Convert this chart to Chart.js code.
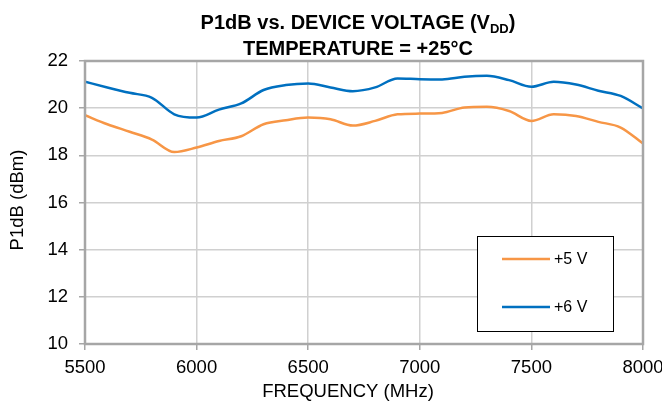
<!DOCTYPE html>
<html>
<head>
<meta charset="utf-8">
<script src="https://cdn.jsdelivr.net/npm/chart.js@4/dist/chart.umd.min.js"></script>
<style>
  html, body { margin: 0; padding: 0; background: #fff; }
  #wrap { width: 662px; height: 403px; }
</style>
</head>
<body>
<div id="wrap"><canvas id="c" width="662" height="403"></canvas></div>
<script>
// frequency points (MHz)
const freqs = [5500, 5600, 5700, 5800, 5900, 6000, 6100, 6200, 6300, 6400, 6500, 6600, 6700,
    6800, 6900, 7000, 7100, 7200, 7300, 7400, 7500, 7600, 7700, 7800, 7900, 8000];
// P1dB at +5 V (dBm)
const p5v = [19.70, 19.32, 19.00, 18.67, 18.14, 18.33, 18.61, 18.81, 19.32, 19.49, 19.60, 19.53, 19.26,
    19.46, 19.74, 19.77, 19.80, 20.03, 20.06, 19.88, 19.46, 19.74, 19.67, 19.42, 19.18, 18.50];
// P1dB at +6 V (dBm)
const p6v = [21.12, 20.88, 20.65, 20.44, 19.74, 19.60, 19.94, 20.20, 20.77, 20.98, 21.05, 20.88, 20.72,
    20.88, 21.26, 21.23, 21.22, 21.33, 21.37, 21.19, 20.91, 21.12, 21.00, 20.74, 20.52, 19.99];
const seriesLabels = ['+5 V', '+6 V'];
const xTicks = [5500, 6000, 6500, 7000, 7500, 8000];
const yTicks = [10, 12, 14, 16, 18, 20, 22];

const FONT = 'Liberation Sans, Arial, sans-serif';

function toPoints(vals) {
    return freqs.map((f, i) => ({ x: f, y: vals[i] }));
}

// title with subscript, axis titles, frame and boxed legend
const decor = {
    id: 'decor',
    afterDraw(chart) {
        const ctx = chart.ctx;
        const a = chart.chartArea;
        ctx.save();
        // frame
        ctx.strokeStyle = '#a6a6a6';
        ctx.lineWidth = 2.5;
        ctx.strokeRect(a.left, a.top, a.right - a.left, a.bottom - a.top);

        // title
        ctx.fillStyle = '#000';
        ctx.textBaseline = 'alphabetic';
        const main = 'P1dB vs. DEVICE VOLTAGE (V';
        ctx.font = 'bold 20px ' + FONT;
        const w1 = ctx.measureText(main).width;
        const w3 = ctx.measureText(')').width;
        ctx.font = 'bold 13px ' + FONT;
        const w2 = ctx.measureText('DD').width;
        const cx = 358;
        const x = cx - (w1 + w2 + w3) / 2;
        ctx.textAlign = 'left';
        ctx.font = 'bold 20px ' + FONT;
        ctx.fillText(main, x, 29);
        ctx.fillText(')', x + w1 + w2, 29);
        ctx.font = 'bold 13px ' + FONT;
        ctx.fillText('DD', x + w1, 33);
        ctx.font = 'bold 20px ' + FONT;
        ctx.textAlign = 'center';
        ctx.fillText('TEMPERATURE = +25°C', cx, 55);

        // axis titles
        ctx.font = '18.5px ' + FONT;
        ctx.fillText('FREQUENCY (MHz)', 348, 397);
        ctx.save();
        ctx.translate(18, 200);
        ctx.rotate(-Math.PI / 2);
        ctx.textBaseline = 'middle';
        ctx.fillText('P1dB (dBm)', 0, 0);
        ctx.restore();

        // legend box
        const bx = 477, by = 236, bw = 136, bh = 95;
        ctx.fillStyle = '#fff';
        ctx.fillRect(bx, by, bw, bh);
        ctx.strokeStyle = '#000';
        ctx.lineWidth = 1;
        ctx.strokeRect(bx + 0.5, by + 0.5, bw, bh);
        const rows = [259, 307];
        chart.data.datasets.forEach((ds, i) => {
            ctx.strokeStyle = ds.borderColor;
            ctx.lineWidth = 2.5;
            ctx.beginPath();
            ctx.moveTo(502, rows[i]);
            ctx.lineTo(550, rows[i]);
            ctx.stroke();
            ctx.fillStyle = '#000';
            ctx.font = '16px ' + FONT;
            ctx.textAlign = 'left';
            ctx.textBaseline = 'middle';
            ctx.fillText(ds.label, 554, rows[i] + 1);
        });
        ctx.restore();
    }
};

new Chart(document.getElementById('c').getContext('2d'), {
    type: 'line',
    data: {
        datasets: [{
            label: seriesLabels[0],
            data: toPoints(p5v),
            borderColor: '#f79646',
            borderWidth: 2.5,
            pointRadius: 0,
            cubicInterpolationMode: 'monotone'
        }, {
            label: seriesLabels[1],
            data: toPoints(p6v),
            borderColor: '#0070c0',
            borderWidth: 2.5,
            pointRadius: 0,
            cubicInterpolationMode: 'monotone'
        }]
    },
    options: {
        responsive: false,
        animation: false,
        layout: { padding: { top: 61, right: 19, left: 0, bottom: 0 } },
        plugins: {
            legend: { display: false },
            title: { display: false },
            tooltip: { enabled: false }
        },
        scales: {
            x: {
                type: 'linear',
                min: 5500,
                max: 8000,
                afterBuildTicks: s => { s.ticks = xTicks.map(v => ({ value: v })); },
                afterFit: s => { s.height = 59; s.paddingLeft = 0; s.paddingRight = 0; },
                grid: { color: '#d0d0d0', lineWidth: 1.5, tickLength: 6, tickColor: '#a6a6a6' },
                border: { display: false },
                ticks: {
                    color: '#000', font: { family: FONT, size: 18.5 }, padding: 7, maxRotation: 0,
                    callback: v => String(v)
                }
            },
            y: {
                min: 10,
                max: 22,
                afterBuildTicks: s => { s.ticks = yTicks.map(v => ({ value: v })); },
                afterFit: s => { s.width = 85; s.paddingTop = 0; s.paddingBottom = 0; },
                grid: { color: '#d0d0d0', lineWidth: 1.5, tickLength: 6, tickColor: '#a6a6a6' },
                border: { display: false },
                ticks: { color: '#000', font: { family: FONT, size: 18.5 }, padding: 11 }
            }
        }
    },
    plugins: [decor]
});
</script>
</body>
</html>
